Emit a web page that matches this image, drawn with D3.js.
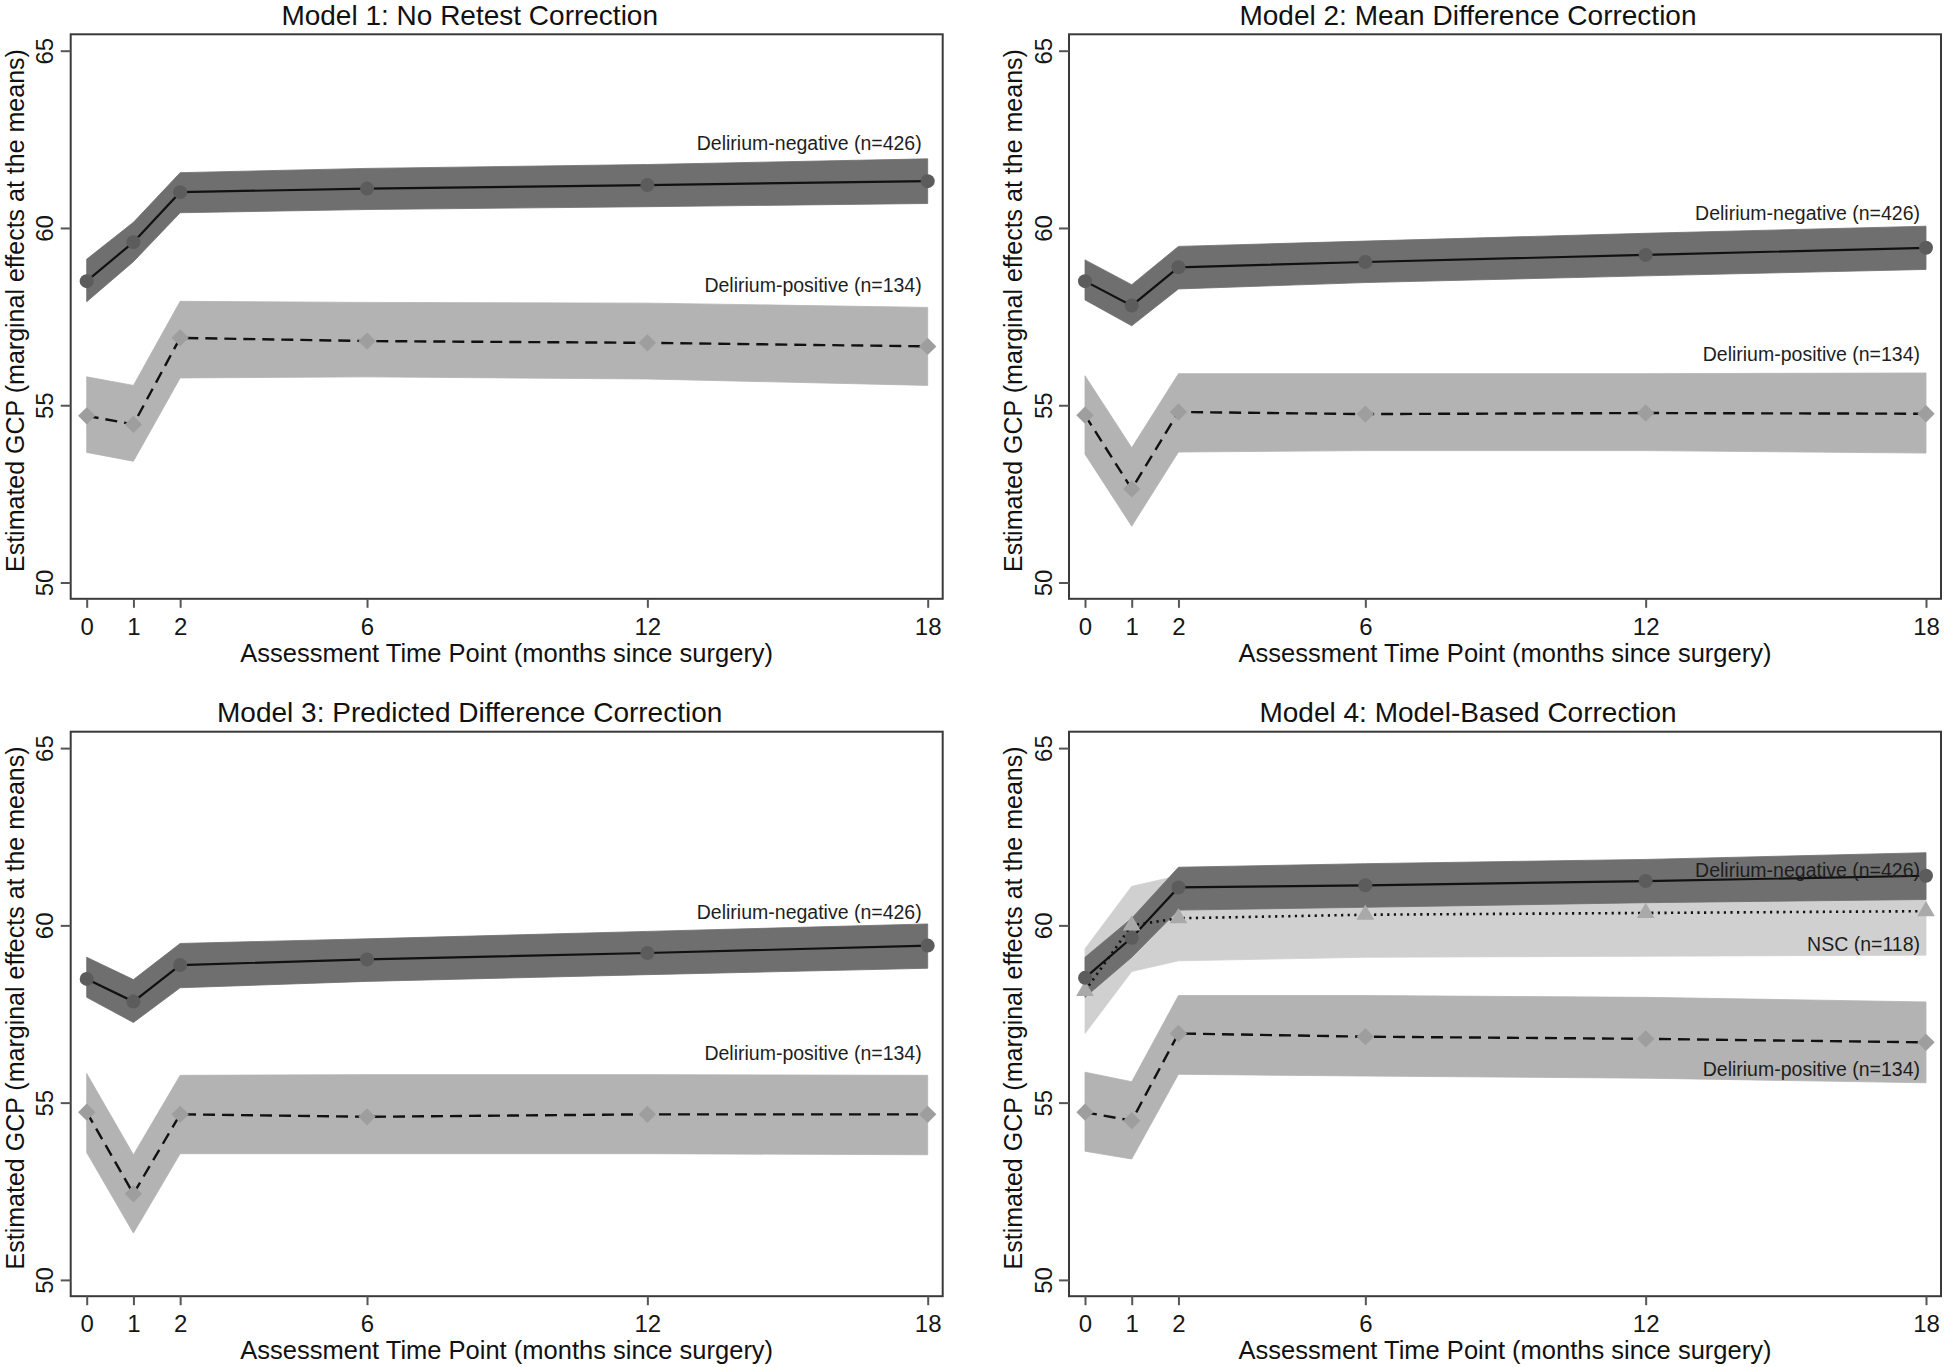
<!DOCTYPE html>
<html>
<head>
<meta charset="utf-8">
<script src="https://cdn.jsdelivr.net/npm/d3@7"></script>
<style>
  html, body { margin: 0; padding: 0; background: #ffffff; }
  svg { display: block; font-family: "Liberation Sans", Arial, Helvetica, sans-serif; }
</style>
</head>
<body>
<script>
// ---------------- DATA ----------------
const timePoints = [0, 1, 2, 6, 12, 18];
const yTickValues = [50, 55, 60, 65];
const panelTitles = [
  "Model 1: No Retest Correction",
  "Model 2: Mean Difference Correction",
  "Model 3: Predicted Difference Correction",
  "Model 4: Model-Based Correction"
];
const xAxisTitle = "Assessment Time Point (months since surgery)";
const yAxisTitle = "Estimated GCP (marginal effects at the means)";
const groupNames = ["Delirium-negative (n=426)", "Delirium-positive (n=134)", "NSC (n=118)"];

// Model 1
const m1NegEst = [58.50, 59.60, 61.01, 61.11, 61.21, 61.32];
const m1NegHi  = [59.12, 60.16, 61.56, 61.68, 61.79, 61.95];
const m1NegLo  = [57.92, 59.05, 60.43, 60.52, 60.60, 60.69];
const m1PosEst = [54.70, 54.46, 56.90, 56.81, 56.76, 56.66];
const m1PosHi  = [55.80, 55.56, 57.93, 57.90, 57.88, 57.76];
const m1PosLo  = [53.67, 53.42, 55.77, 55.80, 55.74, 55.56];
const m1LabelY = [62.40, 58.40];

// Model 2
const m2NegEst = [58.50, 57.81, 58.89, 59.04, 59.24, 59.44];
const m2NegHi  = [59.10, 58.40, 59.48, 59.63, 59.85, 60.05];
const m2NegLo  = [57.97, 57.24, 58.28, 58.46, 58.65, 58.83];
const m2PosEst = [54.72, 52.64, 54.81, 54.75, 54.78, 54.76];
const m2PosHi  = [55.83, 53.80, 55.89, 55.89, 55.89, 55.91];
const m2PosLo  = [53.62, 51.59, 53.68, 53.72, 53.72, 53.65];
const m2LabelY = [60.42, 56.44];

// Model 3
const m3NegEst = [58.49, 57.85, 58.88, 59.04, 59.22, 59.43];
const m3NegHi  = [59.10, 58.47, 59.49, 59.62, 59.83, 60.04];
const m3NegLo  = [57.97, 57.26, 58.24, 58.42, 58.61, 58.79];
const m3PosEst = [54.73, 52.43, 54.67, 54.60, 54.67, 54.67];
const m3PosHi  = [55.82, 53.53, 55.77, 55.79, 55.79, 55.77];
const m3PosLo  = [53.59, 51.32, 53.56, 53.56, 53.56, 53.53];
const m3LabelY = [60.38, 56.40];

// Model 4
const m4NegEst = [58.52, 59.65, 61.07, 61.13, 61.25, 61.40];
const m4NegHi  = [59.10, 60.20, 61.64, 61.74, 61.86, 62.05];
const m4NegLo  = [57.97, 59.10, 60.43, 60.51, 60.64, 60.73];
const m4PosEst = [54.73, 54.49, 56.95, 56.86, 56.80, 56.70];
const m4PosHi  = [55.86, 55.59, 58.02, 58.02, 57.97, 57.84];
const m4PosLo  = [53.63, 53.41, 55.80, 55.75, 55.69, 55.56];
const m4NscEst = [58.15, 60.00, 60.20, 60.30, 60.35, 60.40];
const m4NscHi  = [59.34, 61.10, 61.40, 61.50, 61.58, 61.64];
const m4NscLo  = [56.95, 58.70, 59.00, 59.10, 59.13, 59.16];
const m4LabelY = [61.56, 55.96, 59.47];

// ---------------- BUILD ----------------
const panels = [
  { title: panelTitles[0], series: [
      { key: "neg", est: m1NegEst, lo: m1NegLo, hi: m1NegHi, label: groupNames[0], ly: m1LabelY[0] },
      { key: "pos", est: m1PosEst, lo: m1PosLo, hi: m1PosHi, label: groupNames[1], ly: m1LabelY[1] } ] },
  { title: panelTitles[1], series: [
      { key: "neg", est: m2NegEst, lo: m2NegLo, hi: m2NegHi, label: groupNames[0], ly: m2LabelY[0] },
      { key: "pos", est: m2PosEst, lo: m2PosLo, hi: m2PosHi, label: groupNames[1], ly: m2LabelY[1] } ] },
  { title: panelTitles[2], series: [
      { key: "neg", est: m3NegEst, lo: m3NegLo, hi: m3NegHi, label: groupNames[0], ly: m3LabelY[0] },
      { key: "pos", est: m3PosEst, lo: m3PosLo, hi: m3PosHi, label: groupNames[1], ly: m3LabelY[1] } ] },
  { title: panelTitles[3], series: [
      { key: "nsc", est: m4NscEst, lo: m4NscLo, hi: m4NscHi, label: groupNames[2], ly: m4LabelY[2] },
      { key: "neg", est: m4NegEst, lo: m4NegLo, hi: m4NegHi, label: groupNames[0], ly: m4LabelY[0] },
      { key: "pos", est: m4PosEst, lo: m4PosLo, hi: m4PosHi, label: groupNames[1], ly: m4LabelY[1] } ] }
];

const styles = {
  neg: { band: "#6f6f6f", mark: "#5c5c5c", dash: null,      width: 2.2, symbol: "circle" },
  pos: { band: "#b3b3b3", mark: "#9e9e9e", dash: "12,7",    width: 2.4, symbol: "diamond" },
  nsc: { band: "#d0d0d0", mark: "#a9a9a9", dash: "2.2,4.4", width: 2.6, symbol: "triangle" }
};

const W = 1946, H = 1367;
const svg = d3.select("body").append("svg")
  .attr("width", W).attr("height", H)
  .attr("viewBox", `0 0 ${W} ${H}`);
svg.append("rect").attr("width", W).attr("height", H).attr("fill", "#ffffff");

const colLeft = [70.7, 1069];
const rowTop = [34.3, 731.7];
const frameW = 872, frameH = 564.5;
const padL = 16, padR = 15, padB = 16.3, padT = 16.4;

const diamondPath = d3.symbol(d3.symbolSquare, 150)();
const trianglePath = d3.symbol(d3.symbolTriangle, 135)();

panels.forEach((p, idx) => {
  const L = colLeft[idx % 2], T = rowTop[Math.floor(idx / 2)];
  const g = svg.append("g");
  const x = d3.scaleLinear().domain([0, 18]).range([L + padL, L + frameW - padR]);
  const y = d3.scaleLinear().domain([50, 65]).range([T + frameH - padB, T + padT]);

  // bands
  const area = d3.area()
    .x((d, i) => x(timePoints[i]))
    .y0(d => y(d[0]))
    .y1(d => y(d[1]));
  p.series.forEach(s => {
    const pts = s.lo.map((v, i) => [v, s.hi[i]]);
    g.append("path").datum(pts)
      .attr("d", area)
      .attr("fill", styles[s.key].band)
      .attr("stroke", styles[s.key].band)
      .attr("stroke-width", 0.8);
  });

  // lines
  const line = d3.line().x((d, i) => x(timePoints[i])).y(d => y(d));
  p.series.forEach(s => {
    const st = styles[s.key];
    g.append("path").datum(s.est)
      .attr("d", line)
      .attr("fill", "none")
      .attr("stroke", "#111")
      .attr("stroke-width", st.width)
      .attr("stroke-dasharray", st.dash);
  });

  // markers
  p.series.forEach(s => {
    const st = styles[s.key];
    s.est.forEach((v, i) => {
      const cx = x(timePoints[i]), cy = y(v);
      if (st.symbol === "circle") {
        g.append("circle").attr("cx", cx).attr("cy", cy).attr("r", 7).attr("fill", st.mark);
      } else if (st.symbol === "diamond") {
        g.append("path").attr("d", diamondPath)
          .attr("transform", `translate(${cx},${cy}) rotate(45)`).attr("fill", st.mark);
      } else {
        g.append("path").attr("d", trianglePath)
          .attr("transform", `translate(${cx},${cy})`).attr("fill", st.mark);
      }
    });
  });

  // frame
  g.append("rect").attr("x", L).attr("y", T).attr("width", frameW).attr("height", frameH)
    .attr("fill", "none").attr("stroke", "#3a3a3a").attr("stroke-width", 2);

  // x axis
  const xAx = g.append("g").attr("transform", `translate(0,${T + frameH})`)
    .call(d3.axisBottom(x).tickValues(timePoints).tickSize(9).tickPadding(10).tickFormat(d3.format("d")));
  xAx.select(".domain").remove();
  xAx.selectAll(".tick line").attr("stroke", "#555").attr("stroke-width", 2);
  xAx.selectAll(".tick text").attr("font-size", 24).attr("fill", "#161616")
    .attr("font-family", "'Liberation Sans', Arial, sans-serif");

  // y axis
  const yAx = g.append("g").attr("transform", `translate(${L},0)`)
    .call(d3.axisLeft(y).tickValues(yTickValues).tickSize(10).tickFormat(d3.format("d")));
  yAx.select(".domain").remove();
  yAx.selectAll(".tick line").attr("stroke", "#555").attr("stroke-width", 2);
  yAx.selectAll(".tick text")
    .attr("x", 0).attr("y", -26).attr("dy", null)
    .attr("transform", "rotate(-90)")
    .attr("text-anchor", "middle")
    .attr("dominant-baseline", "central")
    .attr("font-size", 24).attr("fill", "#161616")
    .attr("font-family", "'Liberation Sans', Arial, sans-serif");

  // group labels
  p.series.forEach(s => {
    g.append("text")
      .attr("x", x(18) - 6).attr("y", y(s.ly))
      .attr("text-anchor", "end").attr("dominant-baseline", "central")
      .attr("font-size", 19.5).attr("fill", "#1e1e1e")
      .text(s.label);
  });

  // titles
  g.append("text")
    .attr("x", L + frameW / 2 - 37).attr("y", T - 19)
    .attr("text-anchor", "middle").attr("dominant-baseline", "central")
    .attr("font-size", 28).attr("fill", "#111")
    .text(p.title);

  g.append("text")
    .attr("x", L + frameW / 2).attr("y", T + frameH + 54)
    .attr("text-anchor", "middle").attr("dominant-baseline", "central")
    .attr("font-size", 25.5).attr("fill", "#111")
    .text(xAxisTitle);

  g.append("text")
    .attr("transform", `translate(${L - 56},${T + frameH / 2 - 6}) rotate(-90)`)
    .attr("text-anchor", "middle").attr("dominant-baseline", "central")
    .attr("font-size", 25).attr("fill", "#111")
    .text(yAxisTitle);
});
</script>
</body>
</html>
